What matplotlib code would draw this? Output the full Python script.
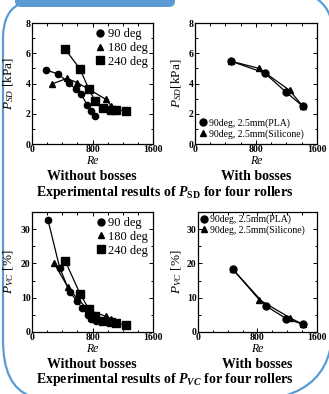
import matplotlib
matplotlib.use("Agg")
import matplotlib.pyplot as plt
from matplotlib.lines import Line2D
from matplotlib.path import Path
from matplotlib.patches import PathPatch, FancyBboxPatch
from matplotlib.ticker import MultipleLocator

plt.rcParams['font.family'] = 'Liberation Serif'
plt.rcParams['mathtext.fontset'] = 'custom'
plt.rcParams['mathtext.rm'] = 'Liberation Serif'
plt.rcParams['mathtext.it'] = 'Liberation Serif:italic'
plt.rcParams['mathtext.bf'] = 'Liberation Serif:bold'
plt.rcParams['mathtext.bfit'] = 'Liberation Serif:italic:bold'

####### data ###################################
# P_SD [kPa], without bosses
sd_re_90 = [189, 344, 485, 577, 652, 727, 775, 828]
sd_p_90 = [4.89, 4.63, 4.06, 3.62, 3.29, 2.59, 2.15, 1.82]
sd_re_180 = [264, 463, 595, 753, 974, 1048]
sd_p_180 = [3.97, 4.34, 4.06, 3.62, 2.96, 2.52]
sd_re_240 = [441, 634, 753, 833, 938, 1048, 1115, 1238]
sd_p_240 = [6.25, 4.96, 3.62, 2.85, 2.37, 2.26, 2.26, 2.19]

# P_SD [kPa], with bosses
sdb_re_pla = [469, 912, 1197, 1417]
sdb_p_pla = [5.48, 4.70, 3.42, 2.48]
sdb_re_sil = [469, 840, 1240, 1417]
sdb_p_sil = [5.48, 5.00, 3.55, 2.48]

# P_VC [%], without bosses
vc_re_90 = [211, 366, 498, 595, 665, 740, 784, 841]
vc_p_90 = [32.7, 18.7, 11.7, 9.0, 6.9, 5.0, 3.8, 3.1]
vc_re_180 = [291, 476, 595, 753, 974, 1048]
vc_p_180 = [20.1, 13.0, 9.8, 6.3, 4.6, 3.8]
vc_re_240 = [441, 634, 753, 833, 938, 1048, 1115, 1238]
vc_p_240 = [20.6, 11.2, 6.6, 4.8, 3.2, 2.9, 2.5, 2.1]

# P_VC [%], with bosses
vcb_re_pla = [464, 914, 1185, 1410]
vcb_p_pla = [18.4, 7.6, 3.9, 2.25]
vcb_re_sil = [464, 824, 1239, 1410]
vcb_p_sil = [18.4, 9.4, 4.1, 2.25]

names_wo = ['90 deg', '180 deg', '240 deg']
names_w = ['90deg, 2.5mm(PLA)', '90deg, 2.5mm(Silicone)']

fig = plt.figure(figsize=(3.29, 3.94), dpi=100)

## decorative poster frame
bg = fig.add_axes([0, 0, 1, 1], zorder=-5)
bg.set_xlim(0, 329)
bg.set_ylim(394, 0)
bg.axis('off')
blue = '#5b9bd5'
bg.add_patch(FancyBboxPatch((15, -12), 160, 19, boxstyle='round,pad=0,rounding_size=6',
                            fc=blue, ec='none'))
left = Path([(18, 5), (4, 12), (3, 36), (3, 340), (3, 386), (30, 396)],
            [Path.MOVETO, Path.CURVE3, Path.CURVE3, Path.LINETO, Path.CURVE3, Path.CURVE3])
bg.add_patch(PathPatch(left, fc='none', ec=blue, lw=1.6))
tr = Path([(317, -1), (326, 5), (330, 16)], [Path.MOVETO, Path.CURVE3, Path.CURVE3])
bg.add_patch(PathPatch(tr, fc='none', ec=blue, lw=1.6))
br = Path([(284, 396), (322, 385), (330, 350)], [Path.MOVETO, Path.CURVE3, Path.CURVE3])
bg.add_patch(PathPatch(br, fc='none', ec=blue, lw=1.6))

rects = {'tl': [0.0973, 0.6345, 0.3678, 0.3071],
         'tr': [0.5927, 0.6345, 0.3708, 0.3071],
         'bl': [0.0973, 0.1574, 0.3678, 0.3046],
         'br': [0.6018, 0.1574, 0.3617, 0.3046]}


def style(ax, ymax, ymaj, ymin, ylabel, labx):
    ax.set_xlim(0, 1600)
    ax.set_ylim(0, ymax)
    ax.xaxis.set_major_locator(MultipleLocator(800))
    ax.xaxis.set_minor_locator(MultipleLocator(200))
    ax.yaxis.set_major_locator(MultipleLocator(ymaj))
    ax.yaxis.set_minor_locator(MultipleLocator(ymin))
    ax.tick_params(which='both', direction='in', top=True, right=True,
                   labelsize=7, pad=1, width=0.7)
    ax.tick_params(which='major', length=3)
    ax.tick_params(which='minor', length=1.8)
    for lab in ax.get_xticklabels() + ax.get_yticklabels():
        lab.set_fontweight('bold')
    for s in ax.spines.values():
        s.set_linewidth(0.9)
    ax.set_ylabel(ylabel, fontsize=9.5, va='center')
    ax.yaxis.set_label_coords(labx, 0.5)


mk = dict(color='black', lw=0.9)

ax = fig.add_axes(rects['tl'])
ax.plot(sd_re_90, sd_p_90, marker='o', ms=4.5, label=names_wo[0], **mk)
ax.plot(sd_re_180, sd_p_180, marker='^', ms=4, label=names_wo[1], **mk)
ax.plot(sd_re_240, sd_p_240, marker='s', ms=5.5, label=names_wo[2], **mk)
style(ax, 8, 2, 1, r'$P_{SD}$ [kPa]', -0.19)
ax.legend(handles=[Line2D([], [], ls='none', marker=m, color='black', ms=s) for m, s in
                   [('o', 5), ('^', 4.5), ('s', 6)]], labels=names_wo,
          loc='upper right', frameon=False, fontsize=9, handlelength=0.7,
          handletextpad=0.3, labelspacing=0.15, borderaxespad=0.2, borderpad=0.2)

ax = fig.add_axes(rects['tr'])
ax.plot(sdb_re_sil, sdb_p_sil, marker='^', ms=4, **mk)
ax.plot(sdb_re_pla, sdb_p_pla, marker='o', ms=5, **mk)
style(ax, 8, 2, 1, r'$P_{SD}$[kPa]', -0.15)
ax.legend(handles=[Line2D([], [], ls='none', marker=m, color='black', ms=s) for m, s in
                   [('o', 5), ('^', 4)]], labels=names_w,
          loc='lower left', frameon=False, fontsize=7, handlelength=0.7,
          handletextpad=0.2, labelspacing=0.2, borderaxespad=0.2, borderpad=0.3)

ax = fig.add_axes(rects['bl'])
ax.plot(vc_re_90, vc_p_90, marker='o', ms=4.5, **mk)
ax.plot(vc_re_180, vc_p_180, marker='^', ms=4, **mk)
ax.plot(vc_re_240, vc_p_240, marker='s', ms=5.5, **mk)
style(ax, 35, 10, 5, r'$P_{VC}$ [%]', -0.19)
ax.legend(handles=[Line2D([], [], ls='none', marker=m, color='black', ms=s) for m, s in
                   [('o', 5), ('^', 4.5), ('s', 6)]], labels=names_wo,
          loc='upper right', frameon=False, fontsize=9, handlelength=0.7,
          handletextpad=0.2, labelspacing=0.15, borderaxespad=0.2, borderpad=0.2)

ax = fig.add_axes(rects['br'])
ax.plot(vcb_re_sil, vcb_p_sil, marker='^', ms=4, **mk)
ax.plot(vcb_re_pla, vcb_p_pla, marker='o', ms=5, **mk)
style(ax, 35, 10, 5, r'$P_{VC}$ [%]', -0.18)
ax.legend(handles=[Line2D([], [], ls='none', marker=m, color='black', ms=s) for m, s in
                   [('o', 5), ('^', 4)]], labels=names_w,
          loc='upper left', frameon=False, fontsize=7, handlelength=0.7,
          handletextpad=0.2, labelspacing=0.1, borderaxespad=0.1, borderpad=0.2)

## captions
for x, y in [(92, 161), (256, 161), (92, 349), (257, 349)]:
    bg.text(x, y, 'Re', style='italic', fontsize=8.5, ha='center', va='center')
for x, y, t in [(92, 176, 'Without bosses'), (256, 176, 'With bosses'),
                (92, 364, 'Without bosses'), (257, 364, 'With bosses')]:
    bg.text(x, y, t, fontweight='bold', fontsize=10, ha='center', va='center')
bg.text(165, 192, r'Experimental results of $\mathbfit{P}_{\mathbf{SD}}$ for four rollers',
        fontweight='bold', fontsize=10, ha='center', va='center')
bg.text(165, 380, r'Experimental results of $\mathbfit{P}_{\mathbfit{VC}}$ for four rollers',
        fontweight='bold', fontsize=10, ha='center', va='center')

fig.savefig('out.png', dpi=100)
